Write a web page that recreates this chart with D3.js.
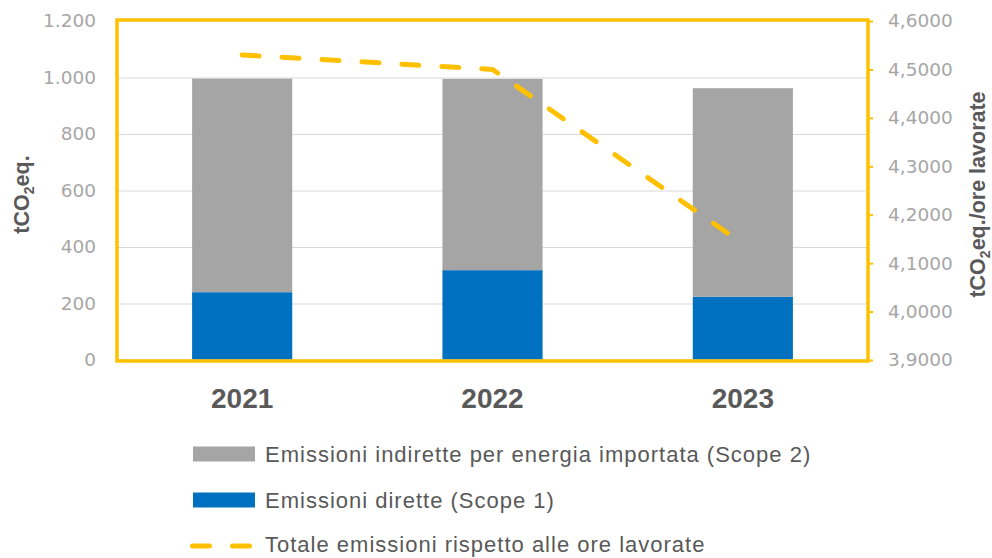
<!DOCTYPE html>
<html>
<head>
<meta charset="utf-8">
<script src="https://cdn.jsdelivr.net/npm/d3@7"></script>
<style>
  body { margin: 0; background: #fff; }
  svg { display: block; }
</style>
</head>
<body>
<svg id="chart" width="992" height="558"></svg>
<script>
// Emissions by year (tCO2eq.)
const years = ["2021", "2022", "2023"];
const scope1 = [240, 318, 224];          // direct emissions
const scope2 = [756, 677, 738];          // indirect emissions, imported energy
// Total emissions per hour worked (tCO2eq./h)
const intensity = [4.53, 4.50, 4.14];

const leftTicks = [0, 200, 400, 600, 800, 1000, 1200];
const rightTicks = [3.9, 4.0, 4.1, 4.2, 4.3, 4.4, 4.5, 4.6];

const legendLabels = [
  "Emissioni indirette per energia importata (Scope 2)",
  "Emissioni dirette (Scope 1)",
  "Totale emissioni rispetto alle ore lavorate"
];

const C = {
  scope2: "#a5a5a5",
  scope1: "#0070c0",
  line: "#ffc000",
  grid: "#d9d9d9",
  tick: "#a6a6a6",
  title: "#595959"
};

const it = d3.formatLocale({ decimal: ",", thousands: ".", grouping: [3], currency: ["€", ""] });
const fmtLeft = it.format(",.0f");
const fmtRight = it.format(".4f");

const svg = d3.select("#chart");
const plot = { left: 117, right: 868, top: 21, bottom: 360 };

const x = d3.scaleBand().domain(years)
  .range([plot.left, plot.right]).paddingInner(0.6).paddingOuter(0.3);
const yL = d3.scaleLinear().domain([0, 1200]).range([plot.bottom, plot.top]);
const yR = d3.scaleLinear().domain([3.9, 4.6]).range([plot.bottom, plot.top]);

// gridlines
svg.append("g").attr("transform", `translate(${plot.left},0)`)
  .call(d3.axisLeft(yL).tickValues(leftTicks.slice(1, -1))
    .tickSize(-(plot.right - plot.left)).tickFormat(""))
  .call(g => g.select(".domain").remove())
  .call(g => g.selectAll("line").attr("stroke", C.grid).attr("stroke-width", 1.2));

// stacked bars
const stackData = years.map((y, i) => ({ year: y, s1: scope1[i], s2: scope2[i] }));
const series = d3.stack().keys(["s1", "s2"])(stackData);
const colors = { s1: C.scope1, s2: C.scope2 };
svg.append("g").selectAll("g").data(series).join("g")
  .attr("fill", d => colors[d.key])
  .selectAll("rect").data(d => d).join("rect")
  .attr("x", d => x(d.data.year))
  .attr("width", x.bandwidth())
  .attr("y", d => yL(d[1]))
  .attr("height", d => yL(d[0]) - yL(d[1]));

// baseline
svg.append("line")
  .attr("x1", plot.left).attr("x2", plot.right)
  .attr("y1", plot.bottom).attr("y2", plot.bottom)
  .attr("stroke", C.grid).attr("stroke-width", 1.2);

// plot-area frame
svg.append("rect")
  .attr("x", plot.left).attr("y", plot.top - 1)
  .attr("width", plot.right - plot.left).attr("height", plot.bottom - plot.top + 2)
  .attr("fill", "none").attr("stroke", C.line).attr("stroke-width", 3.5);

const tickFont = g => g.selectAll("text").attr("fill", C.tick)
  .style("font-family", "DejaVu Sans, sans-serif").style("font-size", "18.5px");

// left axis labels
svg.append("g").attr("transform", `translate(${plot.left},0)`)
  .call(d3.axisLeft(yL).tickValues(leftTicks).tickSize(0).tickPadding(21).tickFormat(fmtLeft))
  .call(g => g.select(".domain").remove())
  .call(tickFont);

// right axis with outward ticks
svg.append("g").attr("transform", `translate(${plot.right},0)`)
  .call(d3.axisRight(yR).tickValues(rightTicks).tickSize(5).tickPadding(15).tickFormat(fmtRight))
  .call(g => g.select(".domain").remove())
  .call(g => g.selectAll("line").attr("stroke", C.line).attr("stroke-width", 2))
  .call(tickFont);

// category labels
svg.append("g").attr("transform", `translate(0,${plot.bottom})`)
  .call(d3.axisBottom(x).tickSize(0).tickPadding(28))
  .call(g => g.select(".domain").remove())
  .call(g => g.selectAll("text").attr("fill", C.title)
    .style("font-family", "Liberation Sans, Arial, sans-serif")
    .style("font-size", "28px").style("font-weight", "bold"));

// intensity line
const line = d3.line()
  .x((d, i) => x(years[i]) + x.bandwidth() / 2)
  .y(d => yR(d));
svg.append("path").datum(intensity)
  .attr("d", line)
  .attr("fill", "none").attr("stroke", C.line)
  .attr("stroke-width", 5).attr("stroke-linecap", "round").attr("stroke-linejoin", "round")
  .attr("stroke-dasharray", "17 23");

// axis titles
function yTitle(xPos, parts) {
  const t = svg.append("text")
    .attr("transform", `translate(${xPos},${(plot.top + plot.bottom) / 2 + 4}) rotate(-90)`)
    .attr("text-anchor", "middle")
    .attr("fill", C.title)
    .style("font-family", "Liberation Sans, Arial, sans-serif")
    .style("font-size", "21.5px").style("font-weight", "bold");
  parts.forEach(p => {
    const ts = t.append("tspan").text(p.t);
    if (p.sub) ts.attr("dy", 5).style("font-size", "14px");
    if (p.after) ts.attr("dy", -5);
  });
}
yTitle(29, [{ t: "tCO" }, { t: "2", sub: true }, { t: "eq.", after: true }]);
yTitle(985, [{ t: "tCO" }, { t: "2", sub: true }, { t: "eq./ore lavorate", after: true }]);

// legend
const legend = svg.append("g")
  .style("font-family", "Liberation Sans, Arial, sans-serif")
  .style("font-size", "22px").style("letter-spacing", "1px");
const rowY = [454, 500, 544];
const swX = 193, swW = 62;
[C.scope2, C.scope1].forEach((c, i) => {
  legend.append("rect").attr("x", swX).attr("y", rowY[i] - 7.5).attr("width", swW).attr("height", 15).attr("fill", c);
});
legend.append("line")
  .attr("x1", 192.5).attr("x2", 249.5).attr("y1", rowY[2] + 2).attr("y2", rowY[2] + 2)
  .attr("stroke", C.line).attr("stroke-width", 5).attr("stroke-linecap", "round")
  .attr("stroke-dasharray", "17 23");
legendLabels.forEach((l, i) => {
  legend.append("text").attr("x", 265).attr("y", rowY[i]).attr("dy", "0.35em")
    .attr("fill", C.title).text(l);
});
</script>
</body>
</html>
